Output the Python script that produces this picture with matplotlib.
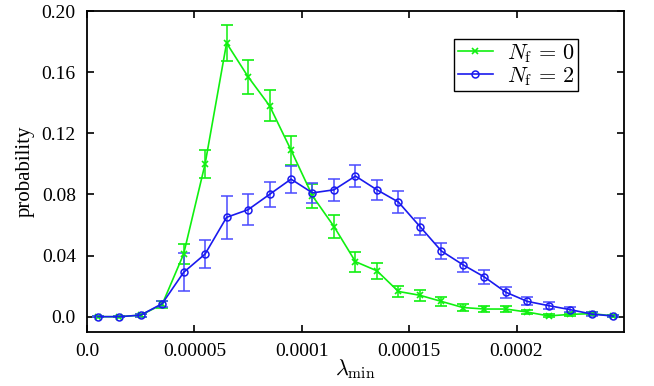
import numpy as np
import matplotlib
matplotlib.use("Agg")
import matplotlib.pyplot as plt

plt.rcParams['font.family'] = ['Liberation Serif', 'DejaVu Serif']
plt.rcParams['mathtext.fontset'] = 'cm'

# lambda_min bin centres
lam = [0.000005, 0.000015, 0.000025, 0.000035, 0.000045, 0.000055, 0.000065,
       0.000075, 0.000085, 0.000095, 0.000105, 0.000115, 0.000125, 0.000135,
       0.000145, 0.000155, 0.000165, 0.000175, 0.000185, 0.000195, 0.000205,
       0.000215, 0.000225, 0.000235, 0.000245]

# N_f = 0
p_nf0 = [0.0, 0.0, 0.001, 0.008, 0.041, 0.100, 0.179, 0.157, 0.138, 0.109,
         0.079, 0.059, 0.036, 0.030, 0.0165, 0.014, 0.010, 0.006, 0.005, 0.005,
         0.003, 0.0005, 0.0015, 0.002, 0.0005]
err_nf0 = [0.0005, 0.0005, 0.001, 0.002, 0.0065, 0.009, 0.012, 0.011, 0.010, 0.0095,
           0.008, 0.0075, 0.0065, 0.0053, 0.0037, 0.0037, 0.003, 0.0022, 0.002, 0.002,
           0.0015, 0.001, 0.001, 0.001, 0.0008]

# N_f = 2
p_nf2 = [0.0, 0.0, 0.001, 0.0085, 0.029, 0.041, 0.065, 0.070, 0.080, 0.090,
         0.081, 0.083, 0.092, 0.083, 0.075, 0.059, 0.043, 0.034, 0.026, 0.016,
         0.010, 0.0072, 0.0046, 0.0017, 0.0004]
err_nf2 = [0.0005, 0.0005, 0.001, 0.002, 0.0125, 0.009, 0.014, 0.0103, 0.008, 0.0088,
           0.0065, 0.007, 0.0073, 0.0066, 0.0073, 0.0055, 0.005, 0.0045, 0.0044, 0.0035,
           0.0026, 0.0022, 0.0017, 0.0012, 0.0008]

xticks = [0.0, 0.00005, 0.0001, 0.00015, 0.0002]
xtick_labels = ['0.0', '0.00005', '0.0001', '0.00015', '0.0002']
yticks = [0.0, 0.04, 0.08, 0.12, 0.16, 0.20]
ytick_labels = ['0.0', '0.04', '0.08', '0.12', '0.16', '0.20']

green = '#10f010'
blue = '#1a1aee'

fig = plt.figure(figsize=(6.54, 3.86), dpi=100)
ax = fig.add_axes([0.133, 0.140, 0.821, 0.8315])

eb0 = ax.errorbar(lam, p_nf0, yerr=err_nf0, color=green, marker='x', markersize=4,
                  markeredgewidth=1.2, linewidth=1.2, capsize=4, elinewidth=1.1,
                  ecolor=green)
eb2 = ax.errorbar(lam, p_nf2, yerr=err_nf2, color=blue, marker='o', markersize=5,
                  markerfacecolor='none', markeredgewidth=1.1, linewidth=1.2, capsize=4,
                  elinewidth=1.1, ecolor='#4a4aff')

ax.set_xlim(0, 0.00025)
ax.set_ylim(-0.01, 0.20)
ax.set_xticks(xticks)
ax.set_xticklabels(xtick_labels)
ax.set_yticks(yticks)
ax.set_yticklabels(ytick_labels)
ax.tick_params(direction='in', top=True, right=True, labelsize=14, length=5, width=1.2, pad=8)
for sp in ax.spines.values():
    sp.set_linewidth(1.3)

ax.set_xlabel(r'$\lambda_{\rm min}$', fontsize=16, labelpad=-2)
ax.set_ylabel('probability', fontsize=15, labelpad=5)

# legend shows only line + marker, no error bars
leg = ax.legend([eb0[0], eb2[0]], [r'$N_{\rm f}\,=\,0$', r'$N_{\rm f}\,=\,2$'],
                loc='upper right', bbox_to_anchor=(0.914, 0.913), borderaxespad=0,
                fontsize=16, fancybox=False, edgecolor='black', framealpha=1,
                borderpad=0.15, handlelength=1.6, handletextpad=0.6, labelspacing=0.0)
leg.get_frame().set_linewidth(1.0)

fig.savefig('out.png', dpi=100)
